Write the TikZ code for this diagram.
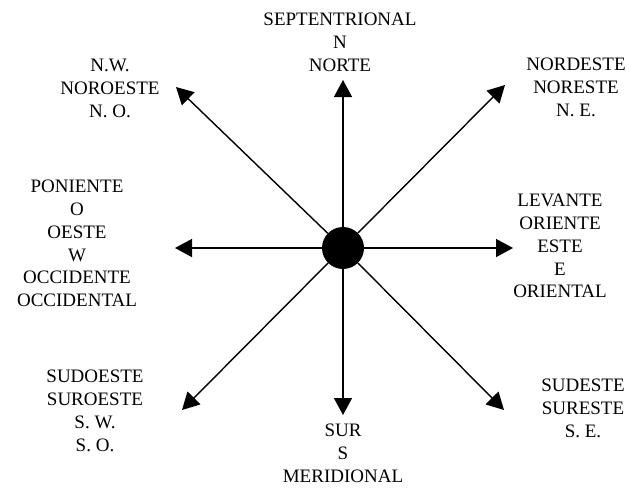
\documentclass[tikz,border=0pt]{standalone}
\usepackage{fontspec}
\setmainfont{Liberation Serif}
\usetikzlibrary{arrows.meta}

\begin{document}
\begin{tikzpicture}[x=1pt,y=-1pt,
  rumbo/.style={-{Triangle[length=17pt,width=18pt]},line width=1.4pt},
  nombre/.style={align=center,anchor=north,inner sep=0pt,font=\fontsize{19}{22.8}\selectfont}]
\useasboundingbox (0,0) rectangle (629,488);
% rosa de los vientos
\node[circle,fill,inner sep=0pt,minimum size=42pt] (c) at (343,248) {};
\coordinate (n) at (343,80);
\coordinate (s) at (343,415);
\coordinate (e) at (513,248);
\coordinate (w) at (175,248);
\coordinate (ne) at (505,85);
\coordinate (nw) at (176,87);
\coordinate (se) at (504,410);
\coordinate (sw) at (182,410);
\foreach \p in {n,s,e,w,ne,nw,se,sw}
  \draw[rumbo] (c) -- (\p);
% nombres
\node[nombre] (tn) at (340,13) {SEPTENTRIONAL\\N\\NORTE};
\node[nombre] (tnw) at (110,59) {N.W.\\NOROESTE\\N. O.};
\node[nombre] (tne) at (576,58) {NORDESTE\\NORESTE\\N. E.};
\node[nombre] (tw) at (77,180) {PONIENTE\\O\\OESTE\\W\\OCCIDENTE\\OCCIDENTAL};
\node[nombre] (te) at (560,194) {LEVANTE\\ORIENTE\\ESTE\\E\\ORIENTAL};
\node[nombre] (tsw) at (95,370) {SUDOESTE\\SUROESTE\\S. W.\\S. O.};
\node[nombre] (ts) at (343,424) {SUR\\S\\MERIDIONAL};
\node[nombre] (tse) at (583,379) {SUDESTE\\SURESTE\\S. E.};
\end{tikzpicture}
\end{document}
